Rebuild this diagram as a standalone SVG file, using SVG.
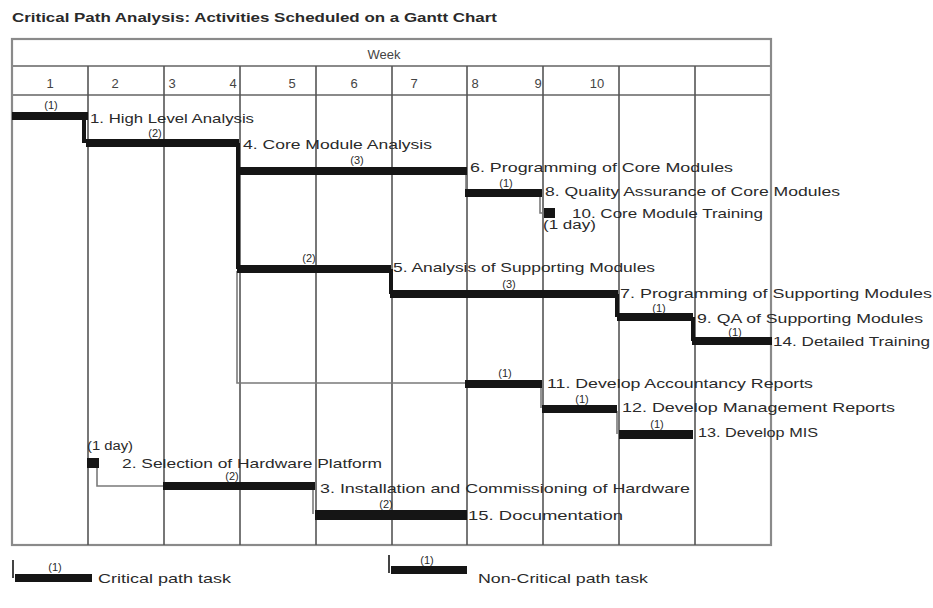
<svg xmlns="http://www.w3.org/2000/svg" width="933" height="608" viewBox="0 0 933 608">
<style>
text{font-family:"Liberation Sans",Arial,sans-serif;fill:#2a2a2a}
.t{font-size:13.5px}
.d{font-size:11px;text-anchor:middle}
.h{font-size:13px;fill:#444}
.bar{fill:#151515}
.grid{stroke:#8a8a8a;stroke-width:2.2;fill:none}
.vl{stroke:#555;stroke-width:1.6}
.crit{stroke:#151515;stroke-width:4;fill:none}
.nc{stroke:#7a7a7a;stroke-width:1.6;fill:none}
.tick{stroke:#444;stroke-width:2;fill:none}
</style>
<rect width="933" height="608" fill="#fff"/>
<text x="12" y="22" font-size="13.5" font-weight="bold" textLength="485" lengthAdjust="spacingAndGlyphs">Critical Path Analysis: Activities Scheduled on a Gantt Chart</text>
<g id="grid">
<rect class="grid" x="12" y="39" width="759" height="506"/>
<line class="grid" x1="12" y1="66" x2="771" y2="66"/>
<line class="grid" x1="12" y1="95" x2="771" y2="95"/>
<g class="vl">
<line x1="88" y1="66" x2="88" y2="545"/>
<line x1="164" y1="66" x2="164" y2="545"/>
<line x1="240" y1="66" x2="240" y2="545"/>
<line x1="316" y1="66" x2="316" y2="545"/>
<line x1="392" y1="66" x2="392" y2="545"/>
<line x1="467" y1="66" x2="467" y2="545"/>
<line x1="543" y1="66" x2="543" y2="545"/>
<line x1="619" y1="66" x2="619" y2="545"/>
<line x1="695" y1="66" x2="695" y2="545"/>
</g>
<text class="h" x="384" y="59" text-anchor="middle">Week</text>
<g>
<text class="h" x="50" y="88" text-anchor="middle">1</text>
<text class="h" x="115" y="88" text-anchor="middle">2</text>
<text class="h" x="172" y="88" text-anchor="middle">3</text>
<text class="h" x="233" y="88" text-anchor="middle">4</text>
<text class="h" x="292" y="88" text-anchor="middle">5</text>
<text class="h" x="354" y="88" text-anchor="middle">6</text>
<text class="h" x="414" y="88" text-anchor="middle">7</text>
<text class="h" x="475" y="88" text-anchor="middle">8</text>
<text class="h" x="538" y="88" text-anchor="middle">9</text>
<text class="h" x="597" y="88" text-anchor="middle">10</text>
</g>
</g>
<g id="connectors">
<polyline class="crit" points="84,116 84,143"/>
<polyline class="crit" points="238,143 238,269"/>
<polyline class="crit" points="391,269 391,294"/>
<polyline class="crit" points="617,294 617,317"/>
<polyline class="crit" points="693,317 693,341"/>
<polyline class="nc" points="237,271 237,383 465,383"/>
<polyline class="nc" points="466,173 466,192"/>
<polyline class="nc" points="540,196 540,213 545,213"/>
<polyline class="nc" points="541,386 541,408"/>
<polyline class="nc" points="617,411 617,434"/>
<polyline class="nc" points="97,466 97,486 163,486"/>
<polyline class="nc" points="313,489 313,514"/>
</g>
<g id="task1">
<rect class="bar" x="12" y="112" width="76" height="8"/>
<text class="d" x="51" y="109">(1)</text>
<text class="t" x="90" y="123" textLength="164" lengthAdjust="spacingAndGlyphs">1. High Level Analysis</text>
</g>
<g id="task4">
<rect class="bar" x="86" y="139" width="153" height="8"/>
<text class="d" x="155" y="137">(2)</text>
<text class="t" x="243" y="149" textLength="189" lengthAdjust="spacingAndGlyphs">4. Core Module Analysis</text>
</g>
<g id="task6">
<rect class="bar" x="240" y="167" width="227" height="8"/>
<text class="d" x="357" y="164">(3)</text>
<text class="t" x="470" y="172" textLength="263" lengthAdjust="spacingAndGlyphs">6. Programming of Core Modules</text>
</g>
<g id="task8">
<rect class="bar" x="465" y="189" width="77" height="8"/>
<text class="d" x="506" y="187">(1)</text>
<text class="t" x="545" y="196" textLength="295" lengthAdjust="spacingAndGlyphs">8. Quality Assurance of Core Modules</text>
</g>
<g id="task10">
<rect class="bar" x="544" y="208" width="11" height="10"/>
<text class="t" x="572" y="218" textLength="191" lengthAdjust="spacingAndGlyphs">10. Core Module Training</text>
<text x="543" y="229" font-size="12" textLength="53" lengthAdjust="spacingAndGlyphs">(1 day)</text>
</g>
<g id="task5">
<rect class="bar" x="237" y="265" width="154" height="8"/>
<text class="d" x="309" y="262">(2)</text>
<text class="t" x="393" y="272" textLength="262" lengthAdjust="spacingAndGlyphs">5. Analysis of Supporting Modules</text>
</g>
<g id="task7">
<rect class="bar" x="390" y="290" width="228" height="8"/>
<text class="d" x="509" y="288">(3)</text>
<text class="t" x="620" y="298" textLength="312" lengthAdjust="spacingAndGlyphs">7. Programming of Supporting Modules</text>
</g>
<g id="task9">
<rect class="bar" x="617" y="313" width="76" height="8"/>
<text class="d" x="659" y="311.5">(1)</text>
<text class="t" x="697" y="323" textLength="226" lengthAdjust="spacingAndGlyphs">9. QA of Supporting Modules</text>
</g>
<g id="task14">
<rect class="bar" x="692" y="337" width="80" height="8"/>
<text class="d" x="735" y="335.5">(1)</text>
<text class="t" x="773" y="346" textLength="157" lengthAdjust="spacingAndGlyphs">14. Detailed Training</text>
</g>
<g id="task11">
<rect class="bar" x="465" y="380" width="77" height="8"/>
<text class="d" x="505" y="377">(1)</text>
<text class="t" x="547" y="388" textLength="266" lengthAdjust="spacingAndGlyphs">11. Develop Accountancy Reports</text>
</g>
<g id="task12">
<rect class="bar" x="542" y="405" width="75" height="8"/>
<text class="d" x="582" y="403">(1)</text>
<text class="t" x="622" y="412" textLength="273" lengthAdjust="spacingAndGlyphs">12. Develop Management Reports</text>
</g>
<g id="task13">
<rect class="bar" x="619" y="430" width="74" height="9"/>
<text class="d" x="657" y="428">(1)</text>
<text class="t" x="698" y="437" textLength="120" lengthAdjust="spacingAndGlyphs">13. Develop MIS</text>
</g>
<g id="task2">
<rect class="bar" x="87" y="458" width="12" height="10"/>
<text x="87" y="450" font-size="12" textLength="46" lengthAdjust="spacingAndGlyphs">(1 day)</text>
<text class="t" x="122" y="468" textLength="260" lengthAdjust="spacingAndGlyphs">2. Selection of Hardware Platform</text>
</g>
<g id="task3">
<rect class="bar" x="163" y="482" width="152" height="8"/>
<text class="d" x="232" y="480">(2)</text>
<text class="t" x="320" y="493" textLength="370" lengthAdjust="spacingAndGlyphs">3. Installation and Commissioning of Hardware</text>
</g>
<g id="task15">
<rect class="bar" x="315" y="510" width="152" height="10"/>
<text class="d" x="386" y="508">(2)</text>
<text class="t" x="468" y="520" textLength="155" lengthAdjust="spacingAndGlyphs">15. Documentation</text>
</g>
<g id="legend-critical">
<polyline class="tick" points="13,560 13,578"/>
<rect class="bar" x="15" y="574" width="77" height="8"/>
<text class="d" x="55" y="571">(1)</text>
<text class="t" x="98" y="583" textLength="133" lengthAdjust="spacingAndGlyphs">Critical path task</text>
</g>
<g id="legend-noncritical">
<polyline class="tick" points="389,555 389,573"/>
<rect class="bar" x="391" y="566" width="76" height="8"/>
<text class="d" x="427" y="564">(1)</text>
<text class="t" x="478" y="583" textLength="170" lengthAdjust="spacingAndGlyphs">Non-Critical path task</text>
</g>
</svg>
